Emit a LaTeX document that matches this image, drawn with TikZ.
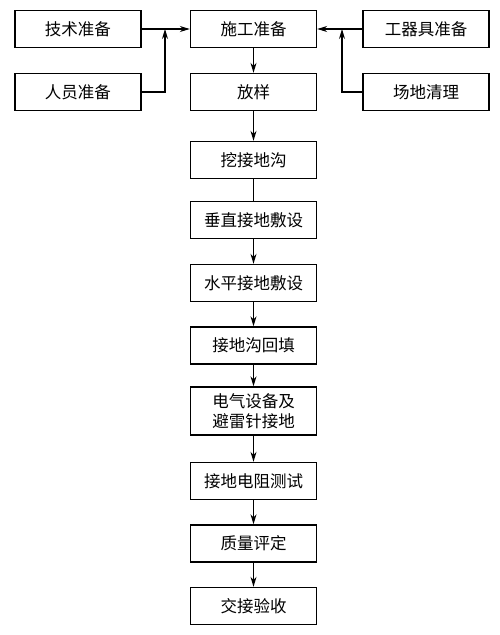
\documentclass[tikz,border=0pt]{standalone}
\usepackage{fontspec}
\newfontfamily\cjk{Noto Sans CJK SC}
\usetikzlibrary{arrows.meta}
\begin{document}
\begin{tikzpicture}[x=1pt,y=-1pt,
  box/.style={draw,line width=1.4pt,minimum width=126pt,minimum height=37pt,inner sep=0pt,font=\cjk\fontsize{16.5}{20}\selectfont,align=center},
  conn/.style={line width=1.1pt},
  arr/.style={conn,-{Stealth[length=10pt,width=6pt]}}]
\useasboundingbox (0,0) rectangle (500,635);
\node[box] (js) at (78,29) {技术准备};
\node[box] (sg) at (253.5,29) {施工准备};
\node[box] (gq) at (426,29) {工器具准备};
\node[box] (ry) at (78,92) {人员准备};
\node[box] (fy) at (253.5,92) {放样};
\node[box] (cd) at (426,92) {场地清理};
\node[box] (wj) at (253.5,160) {挖接地沟};
\node[box] (cz) at (253.5,220) {垂直接地敷设};
\node[box] (sp) at (253.5,283) {水平接地敷设};
\node[box] (ht) at (253.5,345.5) {接地沟回填};
\node[box,minimum height=48pt] (dq) at (253.5,411) {电气设备及\\避雷针接地};
\node[box] (dz) at (253.5,481) {接地电阻测试};
\node[box] (zl) at (253.5,543.5) {质量评定};
\node[box] (jj) at (253.5,606) {交接验收};
\coordinate (lj) at (165,29);
\coordinate (rj) at (342,29);
\draw[arr] (js) -- (sg);
\draw[arr] (gq) -- (sg);
\draw[arr] (ry.east) -| (lj);
\draw[arr] (cd.west) -| (rj);
\draw[arr] (sg) -- (fy);
\draw[arr] (fy) -- (wj);
\draw[conn] (wj) -- (cz);
\draw[arr] (cz) -- (sp);
\draw[arr] (sp) -- (ht);
\draw[arr] (ht) -- (dq);
\draw[arr] (dq) -- (dz);
\draw[arr] (dz) -- (zl);
\draw[arr] (zl) -- (jj);
\end{tikzpicture}
\end{document}
